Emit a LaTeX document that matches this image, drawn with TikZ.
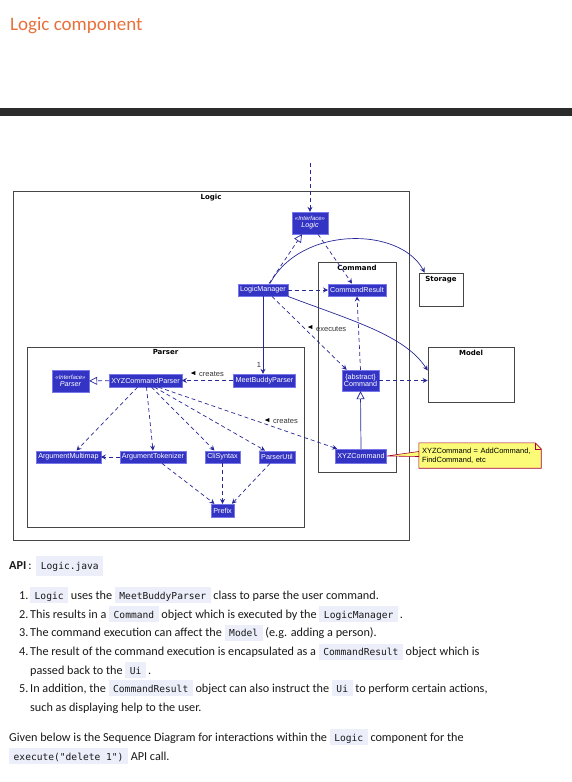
\documentclass[tikz,border=0pt]{standalone}
\usepackage{fontspec}
\setmainfont{Carlito}
\newfontfamily\umlfont{Liberation Sans}
\newfontfamily\umltitlefont{DejaVu Sans}
\newfontfamily\codefont{DejaVu Sans Mono}
\usetikzlibrary{arrows.meta, positioning, calc, shapes.geometric, backgrounds}
\definecolor{heading}{RGB}{232,112,58}
\definecolor{barcol}{RGB}{43,43,43}
\definecolor{clsfill}{RGB}{52,52,196}
\definecolor{clsedge}{RGB}{120,120,235}
\definecolor{edgecol}{RGB}{40,40,150}
\definecolor{framecol}{RGB}{70,70,70}
\definecolor{notefill}{RGB}{251,251,119}
\definecolor{noteedge}{RGB}{168,0,54}
\definecolor{codebg}{RGB}{236,238,250}
\definecolor{bodytext}{RGB}{25,25,25}
\newcommand\code[1]{{\setlength\fboxsep{0pt}\colorbox{codebg}{\rule[-4pt]{0pt}{16pt}\hspace{4.5pt}{\codefont\fontsize{9.6}{12}\selectfont #1}\hspace{4.5pt}}}}
\newcommand\codebig[1]{{\setlength\fboxsep{0pt}\colorbox{codebg}{\rule[-7pt]{0pt}{20pt}\hspace{4.5pt}{\codefont\fontsize{9.6}{12}\selectfont #1}\hspace{4.5pt}}}}
\tikzset{
  cls/.style={draw=clsedge, line width=0.4pt, fill=clsfill, text=white, font=\umlfont\fontsize{7.2}{8}\selectfont, inner xsep=2pt, inner ysep=0pt, minimum height=12.5pt, align=center},
  pkgframe/.style={draw=framecol, line width=0.8pt},
  ftitle/.style={anchor=north, inner sep=0pt, font=\umltitlefont\bfseries\fontsize{7}{8}\selectfont},
  dep/.style={edgecol, line width=0.7pt, dash pattern=on 4pt off 3pt, -{Stealth[length=5pt, width=5pt, inset=1.8pt]}},
  assoc/.style={edgecol, line width=0.7pt, -{Stealth[length=5pt, width=5pt, inset=1.8pt]}},
  realize/.style={edgecol, line width=0.7pt, dash pattern=on 4pt off 3pt, -{Triangle[open, length=8pt, width=8pt, fill=white]}},
  inherit/.style={edgecol, line width=0.7pt, -{Triangle[open, length=8pt, width=8pt, fill=white]}},
  elabel/.style={inner sep=0pt, text=black!80, font=\umlfont\fontsize{7.5}{8}\selectfont},
  dirmark/.style={isosceles triangle, isosceles triangle stretches, fill=black, inner sep=0pt, minimum width=4pt, minimum height=4.5pt, shape border rotate=#1},
  notebox/.style={inner xsep=3pt, inner ysep=2pt, text width=116pt, align=left, minimum height=25pt, font=\umlfont\fontsize{7.5}{9}\selectfont},
  txt/.style={anchor=base west, inner sep=0pt, text=bodytext, font=\fontsize{12.2}{14}\selectfont},
}
\begin{document}
\begin{tikzpicture}[x=1pt, y=-1pt]
  \useasboundingbox (0,0) rectangle (572,782);
  \node[anchor=base west, inner sep=0pt, text=heading, font=\fontsize{19}{22}\selectfont] (heading) at (10,30) {Logic component};
  \fill[barcol] (0,108) rectangle (572,115.5);

  \node[pkgframe, minimum width=396pt, minimum height=349pt] (flogic) at (211,365.5) {};
  \node[ftitle] (flogictitle) at ([yshift=-3pt]flogic.north) {Logic};
  \node[pkgframe, minimum width=277pt, minimum height=180pt] (fparser) at (165.5,437) {};
  \node[ftitle] (fparsertitle) at ([yshift=-3pt]fparser.north) {Parser};
  \node[pkgframe, minimum width=78pt, minimum height=210pt] (fcmd) at (357,367) {};
  \node[ftitle] (fcmdtitle) at ([yshift=-3pt]fcmd.north) {Command};
  \node[pkgframe, minimum width=44pt, minimum height=33pt] (storage) at (441,289.5) {};
  \node[ftitle] (storagetitle) at ([yshift=-4pt]storage.north) {Storage};
  \node[pkgframe, minimum width=86pt, minimum height=55pt] (model) at (471,374.5) {};
  \node[ftitle] (modeltitle) at ([yshift=-3pt]model.north) {Model};

  \node[cls, minimum width=36pt, minimum height=22pt] (logic) at (310,223) {{\itshape\fontsize{6}{7}\selectfont «Interface»}\\[-1pt]\itshape Logic};
  \node[cls] (lmgr) at (263,290) {LogicManager};
  \node[cls] (cres) at (357,290) {CommandResult};
  \node[cls, minimum width=37pt, minimum height=21pt] (cmd) at (360.5,380.5) {\{abstract\}\\[-1pt]Command};
  \node[cls, minimum height=14pt] (xyzcmd) at (361,456) {XYZCommand};
  \node[cls, minimum width=37pt, minimum height=22pt] (iparser) at (70.5,381) {{\itshape\fontsize{6}{7}\selectfont «Interface»}\\[-1pt]\itshape Parser};
  \node[cls, minimum height=13pt] (xyzparser) at (145.5,380.5) {XYZCommandParser};
  \node[cls, minimum height=13pt] (mbparser) at (264.5,380.5) {MeetBuddyParser};
  \node[cls] (amap) at (68.5,457) {ArgumentMultimap};
  \node[cls] (atok) at (153,457) {ArgumentTokenizer};
  \node[cls] (clisyn) at (222.5,457) {CliSyntax};
  \node[cls] (putil) at (277,457) {ParserUtil};
  \node[cls, minimum height=13pt] (prefix) at (222.5,510.5) {Prefix};

  \node[notebox] (note) at (480,455.5) {XYZCommand = AddCommand,\\FindCommand, etc};
  \begin{scope}[on background layer]
    \draw[noteedge, fill=notefill, line width=0.6pt] (note.north west) -- ([xshift=-6pt]note.north east) -- ([yshift=-6pt]note.north east) -- (note.south east) -- (note.south west) -- cycle;
  \end{scope}
  \draw[noteedge, line width=0.5pt] ([xshift=-6pt]note.north east) |- ([yshift=-6pt]note.north east);
  \draw[noteedge, line width=0.6pt, fill=notefill] (xyzcmd.east) -- ([yshift=4pt]note.west) -- ([yshift=-1pt]note.west) -- cycle;

  \coordinate (entry) at (310,163);
  \draw[dep] (entry) -- (logic);
  \draw[realize] ([xshift=6pt]lmgr.north) -- ([xshift=-8pt]logic.south);
  \draw[dep] ([xshift=8pt]logic.south) -- ([xshift=-5pt]cres.north);
  \draw[assoc] ([xshift=7pt]lmgr.north) .. controls (300,226) and (400,226) .. ([xshift=6pt]storage.north west);
  \draw[dep] (lmgr) -- (cres);
  \draw[assoc] (lmgr.south east) .. controls (350,320) and (405,335) .. ([yshift=4pt]model.west);
  \draw[assoc] (lmgr.south) -- (lmgr.south |- mbparser.north);
  \node[elabel] (mult) at (259,365) {1};
  \draw[dep] ([xshift=9pt]lmgr.south) -- ([xshift=5pt]cmd.north west);
  \node[dirmark=135] (direxec) at (311,327) {};
  \node[elabel, anchor=west] (lblexec) at (316,329) {executes};
  \draw[dep] (cmd.north) -- (cres.south);
  \draw[dep] (cmd.east) -- (cmd.east -| model.west);
  \draw[inherit] (xyzcmd.north) -- (cmd.south);

  \draw[dep] (mbparser) -- (xyzparser);
  \node[dirmark=180] (dircreate) at (194,373) {};
  \node[elabel, anchor=west] (lblcreate) at (199,374) {creates};
  \draw[realize] (xyzparser) -- (iparser);
  \draw[dep] ([xshift=-8pt]xyzparser.south) -- ([xshift=8pt]amap.north);
  \draw[dep] ([xshift=1pt]xyzparser.south) -- (atok.north);
  \draw[dep] ([xshift=6pt]xyzparser.south) -- ([xshift=-8pt]clisyn.north);
  \draw[dep] ([xshift=9pt]xyzparser.south) -- ([xshift=-12pt]putil.north);
  \draw[dep] ([xshift=13pt]xyzparser.south) -- ([xshift=2pt]xyzcmd.north west);
  \node[dirmark=160] (dircreatecmd) at (268,420) {};
  \node[elabel, anchor=west] (lblcreatecmd) at (273,421) {creates};
  \draw[dep] (atok) -- (amap);
  \draw[dep] ([xshift=9pt]atok.south) -- ([xshift=-8pt]prefix.north);
  \draw[dep] (clisyn) -- (prefix);
  \draw[dep] ([xshift=-7pt]putil.south) -- ([xshift=-2pt]prefix.north east);

  \node[txt] (api) at (9,569) {{\bfseries API}\,:\, \codebig{Logic.java}};
  \node[txt] (item1) at (19,599) {\makebox[11pt][l]{1.}\code{Logic} uses the \code{MeetBuddyParser} class to parse the user command.};
  \node[txt] (item2) at (19,618) {\makebox[11pt][l]{2.}This results in a \code{Command} object which is executed by the \code{LogicManager}\,.};
  \node[txt] (item3) at (19,636.5) {\makebox[11pt][l]{3.}The command execution can affect the \code{Model} (e.g. adding a person).};
  \node[txt] (item4) at (19,655.5) {\makebox[11pt][l]{4.}The result of the command execution is encapsulated as a \code{CommandResult} object which is};
  \node[txt] (item4b) at (30,674) {passed back to the \code{Ui}\,.};
  \node[txt] (item5) at (19,692) {\makebox[11pt][l]{5.}In addition, the \code{CommandResult} object can also instruct the \code{Ui} to perform certain actions,};
  \node[txt] (item5b) at (30,711) {such as displaying help to the user.};
  \node[txt] (given) at (9,741) {Given below is the Sequence Diagram for interactions within the \code{Logic} component for the};
  \node[txt] (given2) at (9,760) {\code{execute("delete 1")} API call.};
\end{tikzpicture}
\end{document}
